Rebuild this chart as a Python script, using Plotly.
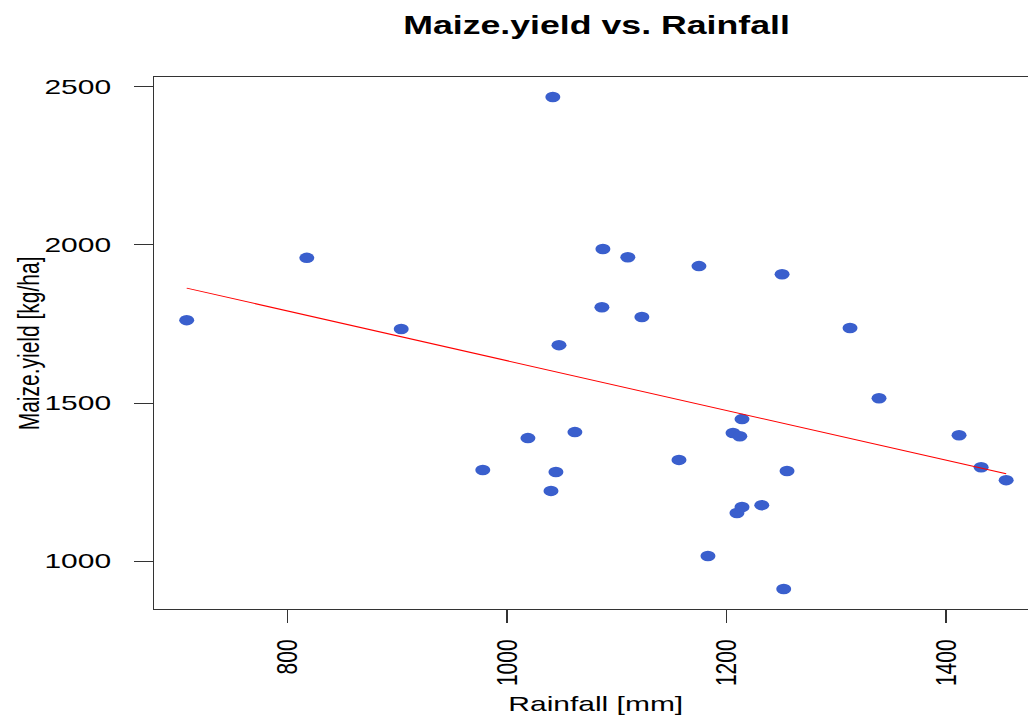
import numpy as np
import plotly.graph_objects as go

# Annual rainfall (mm) and maize yield (kg/ha)
rainfall = [708.2, 817.6, 903.6, 977.9, 1019.0, 1040.0, 1041.7, 1044.5, 1047.3, 1061.8,
            1086.4, 1087.3, 1110.0, 1122.8, 1156.6, 1174.8, 1183.0, 1205.8, 1209.4, 1212.0,
            1214.0, 1214.0, 1232.0, 1250.5, 1252.0, 1255.0, 1312.4, 1338.8, 1411.7, 1431.8,
            1454.6]
maize_yield = [1762, 1959, 1734, 1288, 1389, 1222, 2468, 1282, 1683, 1408,
               1803, 1987, 1961, 1772, 1320, 1933, 1016, 1405, 1152, 1395,
               1449, 1171, 1177, 1907, 912, 1285, 1737, 1515, 1398, 1297,
               1256]

x_ticks = [800, 1000, 1200, 1400]
y_ticks = [1000, 1500, 2000, 2500]

# Least-squares fit of yield on rainfall
x = np.array(rainfall, dtype=float)
y = np.array(maize_yield, dtype=float)
slope, intercept = np.polyfit(x, y, 1)
x_fit = np.sort(x)
y_fit = intercept + slope * x_fit

W, H = 720, 720
STRETCH = 1028 / W
FONT = "Liberation Sans, Arial, sans-serif"

fig = go.Figure()
fig.add_trace(go.Scatter(
    x=rainfall, y=maize_yield, mode="markers",
    marker=dict(color="#3A5FCD", size=10.5, line=dict(width=0)),
    showlegend=False, hoverinfo="x+y",
))
fig.add_trace(go.Scatter(
    x=x_fit, y=y_fit, mode="lines",
    line=dict(color="#FF0000", width=1),
    showlegend=False, hoverinfo="skip",
))

axis_common = dict(
    showgrid=False, zeroline=False,
    showline=True, linecolor="#333333", linewidth=1,
    ticks="outside", ticklen=13, tickwidth=1, tickcolor="#333333",
    tickfont=dict(family=FONT, size=21, color="black"),
)

fig.update_layout(
    width=W, height=H, autosize=False,
    margin=dict(l=108, r=0, t=77, b=111),
    paper_bgcolor="white", plot_bgcolor="white",
    title=dict(
        text="<b>Maize.yield vs. Rainfall</b>",
        x=417.8 / W, xanchor="center", xref="container",
        y=1 - 25 / H, yanchor="middle", yref="container",
        font=dict(family=FONT, size=25, color="black"),
    ),
    xaxis=dict(
        range=[678.6, 1474.5], tickvals=x_ticks, tickangle=-90,
        mirror=True, ticklabelstandoff=8, **axis_common,
    ),
    yaxis=dict(
        range=[848.5, 2531.0], tickvals=y_ticks,
        ticklabelstandoff=12, **axis_common,
    ),
    annotations=[
        dict(text="Rainfall [mm]", xref="paper", yref="paper",
             x=0.506, y=-0.1767, xanchor="center", yanchor="middle",
             showarrow=False, font=dict(family=FONT, size=21, color="black")),
        dict(text="Maize.yield [kg/ha]", xref="paper", yref="paper",
             x=-0.1448, y=0.5, xanchor="center", yanchor="middle", textangle=-90,
             showarrow=False, font=dict(family=FONT, size=21, color="black")),
    ],
)

# Widen the whole figure horizontally to fill the 1028px page
post = """
var gd = document.getElementById('{plot_id}');
document.body.style.margin = '0';
document.body.style.overflow = 'hidden';
gd.style.transformOrigin = '0 0';
gd.style.transform = 'scaleX(%.5f)';
""" % STRETCH

fig.write_html("out.html", post_script=post)
